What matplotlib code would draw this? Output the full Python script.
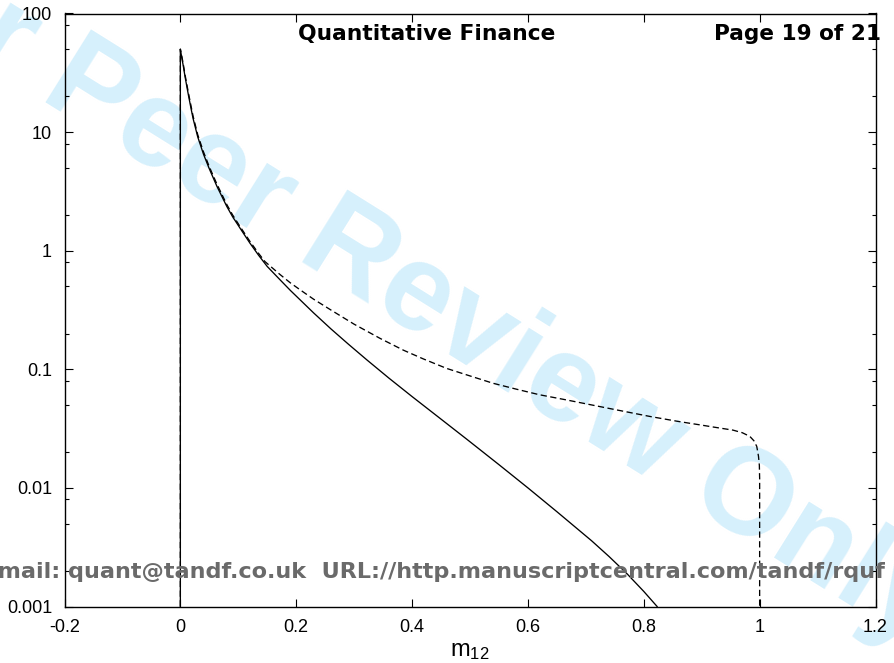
import numpy as np
import matplotlib
matplotlib.use('Agg')
import matplotlib.pyplot as plt
from matplotlib.ticker import FixedLocator, LogLocator, NullFormatter

plt.rcParams['font.family'] = ['Liberation Sans', 'DejaVu Sans']
plt.rcParams['mathtext.fontset'] = 'custom'
plt.rcParams['mathtext.rm'] = 'Liberation Sans'
plt.rcParams['mathtext.it'] = 'Liberation Sans'
plt.rcParams['lines.scale_dashes'] = False

# values
solidM = [0.0, 0.0, 0.002, 0.005, 0.008, 0.011, 0.014, 0.018, 0.022, 0.03, 0.04, 0.05, 0.063,
          0.08, 0.09, 0.103, 0.12, 0.135, 0.15, 0.172, 0.19, 0.207, 0.23, 0.26, 0.29, 0.322,
          0.36, 0.4, 0.45, 0.495, 0.55, 0.6, 0.65, 0.71, 0.74, 0.771, 0.8, 0.823]
solidV = [0.001, 50, 43.6, 36.3, 29.5, 24.5, 20.4, 16.2, 13.0, 9.1, 6.5, 4.9, 3.5,
          2.37, 1.94, 1.55, 1.16, 0.916, 0.736, 0.569, 0.462, 0.384, 0.299, 0.219, 0.163, 0.12,
          0.0843, 0.0589, 0.038, 0.0256, 0.0157, 0.01, 0.0063, 0.00358, 0.00264, 0.00189, 0.00134, 0.001]

dashedM = [0.0, 0.0, 0.002, 0.005, 0.008, 0.011, 0.014, 0.018, 0.022, 0.03, 0.04, 0.05, 0.063,
           0.08, 0.09, 0.103, 0.12, 0.135, 0.146, 0.172, 0.19, 0.207, 0.23, 0.26, 0.3, 0.345,
           0.385, 0.42, 0.46, 0.495, 0.54, 0.58, 0.62, 0.668, 0.74, 0.811, 0.86, 0.897, 0.92,
           0.954, 0.97, 0.983, 0.99, 0.995, 0.998, 0.9995, 1.0, 1.0]
dashedV = [0.001, 50, 45, 37.5, 30.6, 25.5, 21.3, 17.0, 13.6, 9.5, 6.8, 5.1, 3.65,
           2.46, 2.01, 1.6, 1.2, 0.95, 0.81, 0.63, 0.535, 0.467, 0.39, 0.316, 0.24, 0.182,
           0.145, 0.122, 0.1016, 0.0895, 0.0762, 0.068, 0.061, 0.055, 0.0468, 0.040, 0.0363, 0.034, 0.0326,
           0.0307, 0.0292, 0.0272, 0.025, 0.0224, 0.0185, 0.0155, 0.012, 0.001]

xTicks = [-0.2, 0, 0.2, 0.4, 0.6, 0.8, 1, 1.2]
xTickLabels = ['-0.2', '0', '0.2', '0.4', '0.6', '0.8', '1', '1.2']
yTicks = [0.001, 0.01, 0.1, 1, 10, 100]
yTickLabels = ['0.001', '0.01', '0.1', '1', '10', '100']

W, H = 894, 663
fig = plt.figure(figsize=(W / 100, H / 100), dpi=100)
ax = fig.add_axes([64.5 / W, 1 - 606.5 / H, 811 / W, 593 / H])
ax.patch.set_alpha(0)

ax.plot(dashedM, dashedV, color='black', lw=0.95, dashes=(4.5, 2.5))
ax.plot(solidM, solidV, color='black', lw=0.95)

ax.set_yscale('log')
ax.set_xlim(-0.2, 1.2)
ax.set_ylim(0.001, 100)
ax.xaxis.set_major_locator(FixedLocator(xTicks))
ax.set_xticklabels(xTickLabels)
ax.yaxis.set_major_locator(FixedLocator(yTicks))
ax.set_yticklabels(yTickLabels)
ax.yaxis.set_minor_locator(LogLocator(base=10, subs=(2, 5, 8)))
ax.yaxis.set_minor_formatter(NullFormatter())

ax.tick_params(which='both', direction='in', top=True, right=True, width=0.8, labelsize=13)
ax.tick_params(which='major', length=6, pad=9)
ax.tick_params(which='minor', length=3)
ax.tick_params(axis='y', pad=9)
for s in ax.spines.values():
  s.set_linewidth(1.0)

ax.set_xlabel('$\\mathrm{m}_{12}$', fontsize=17, labelpad=3)

# watermark and page stamps
fig.text(-160 / W, 1 + 26 / H, 'For Peer Review Only', fontsize=89, fontweight='bold',
         color='#d6f0fc', rotation=-32, rotation_mode='anchor', ha='left', va='baseline', zorder=-1)
fig.text(298 / W, 1 - 40 / H, 'Quantitative Finance', fontsize=15.7, fontweight='bold',
         family='DejaVu Sans', ha='left', va='baseline')
fig.text(881 / W, 1 - 40 / H, 'Page 19 of 21', fontsize=15.6, fontweight='bold',
         family='DejaVu Sans', ha='right', va='baseline')
fig.text(885 / W, 1 - 578 / H, 'E-mail: quant@tandf.co.uk  URL://http.manuscriptcentral.com/tandf/rquf',
         fontsize=16.1, fontweight='bold', family='DejaVu Sans', color='#6a6a6a',
         ha='right', va='baseline')

fig.savefig('out.png', dpi=100)
